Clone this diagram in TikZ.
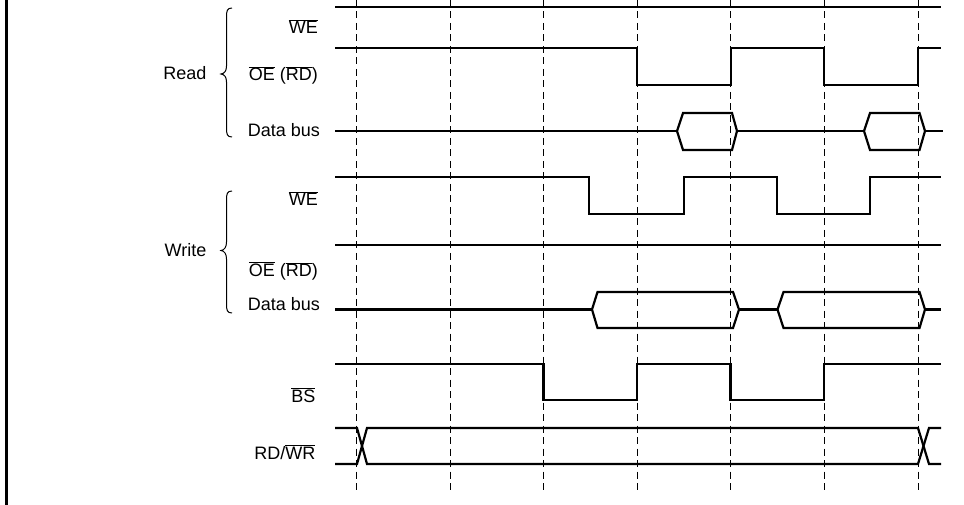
\documentclass[tikz,border=0pt]{standalone}
\usepackage{fontspec}
\setmainfont{Liberation Sans}
\newcommand{\ovl}[1]{\ensuremath{\overline{\hbox{#1}}}}
\begin{document}
\begin{tikzpicture}[x=1pt,y=-1pt,
  sig/.style={line width=2.2pt, line join=miter},
  tick/.style={line width=0.9pt, dash pattern=on 7pt off 4.5pt},
  lbl/.style={anchor=base east, inner sep=0pt, font=\fontsize{18}{20}\selectfont},
  brc/.style={line width=1pt}]
\useasboundingbox (0,0) rectangle (964,505);
% left border
\draw[line width=3pt] (6.5,0) -- (6.5,505);
% dashed time markers
\foreach \t in {356,450,543.5,637,730.7,824,918}
  \draw[tick] (\t,0) -- (\t,490);
% labels
\node[lbl] (rwe) at (318,34) {\ovl{WE}};
\node[lbl] (roe) at (318,81) {\ovl{OE} (\ovl{RD})};
\node[lbl] (rdb) at (320,136.5) {Data bus};
\node[lbl] (rd) at (206.5,79.5) {Read};
\node[lbl] (wwe) at (318,205.5) {\ovl{WE}};
\node[lbl] (woe) at (318,276.5) {\ovl{OE} (\ovl{RD})};
\node[lbl] (wdb) at (320,310.5) {Data bus};
\node[lbl] (wr) at (206.5,257) {Write};
\node[lbl] (bs) at (315.5,402.5) {\ovl{BS}};
\node[lbl] (rw) at (315.5,459) {RD/\ovl{WR}};
% braces
\draw[brc] (232,8) .. controls (227,8) and (226.5,11) .. (226.5,17) -- (226.5,66)
  .. controls (226.5,71) and (224.5,73.5) .. (221,74) .. controls (224.5,74.5) and (226.5,77) .. (226.5,82)
  -- (226.5,128) .. controls (226.5,134) and (227,137) .. (232,137);
\draw[brc] (232,191) .. controls (227,191) and (226.5,194) .. (226.5,200) -- (226.5,242)
  .. controls (226.5,247) and (224.5,250) .. (221,250.5) .. controls (224.5,251) and (226.5,254) .. (226.5,259)
  -- (226.5,304) .. controls (226.5,310) and (227,313) .. (232,313);
% Read WE
\draw[sig] (335,7) -- (941,7);
% Read OE
\draw[sig] (335,48) -- (637,48) -- (637,85) -- (730.7,85) -- (730.7,48) -- (824,48) -- (824,85) -- (918,85) -- (918,48) -- (941,48);
% Read data bus
\draw[sig] (335,131) -- (677,131);
\draw[sig] (677,131) -- (683,113) -- (732,113) -- (737,131) -- (732,150) -- (683,150) -- cycle;
\draw[sig] (737,131) -- (864,131);
\draw[sig] (864,131) -- (870,113) -- (919.5,113) -- (925,131) -- (919.5,150) -- (870,150) -- cycle;
\draw[sig] (925,131) -- (943,131);
% Write WE
\draw[sig] (335,177) -- (589,177) -- (589,214) -- (684,214) -- (684,177) -- (777,177) -- (777,214) -- (870,214) -- (870,177) -- (941,177);
% Write OE
\draw[sig] (335,245) -- (941,245);
% Write data bus
\draw[sig] (335,309.5) -- (592,309.5);
\draw[sig] (592,309.5) -- (597.5,292) -- (733,292) -- (739,309.5) -- (733,328) -- (597.5,328) -- cycle;
\draw[sig] (739,309.5) -- (777.5,309.5);
\draw[sig] (777.5,309.5) -- (783.5,292) -- (919.5,292) -- (925,309.5) -- (919.5,328) -- (783.5,328) -- cycle;
\draw[sig] (925,309.5) -- (941,309.5);
% BS
\draw[sig] (335,364) -- (543.5,364) -- (543.5,400) -- (637,400) -- (637,364) -- (730.5,364) -- (730.5,400) -- (824,400) -- (824,364) -- (941,364);
% RD/WR
\draw[sig] (335,428) -- (357,428) -- (367,464) -- (918,464) -- (929,428) -- (941,428);
\draw[sig] (335,464) -- (357,464) -- (367,428) -- (918,428) -- (929,464) -- (941,464);
\end{tikzpicture}
\end{document}
